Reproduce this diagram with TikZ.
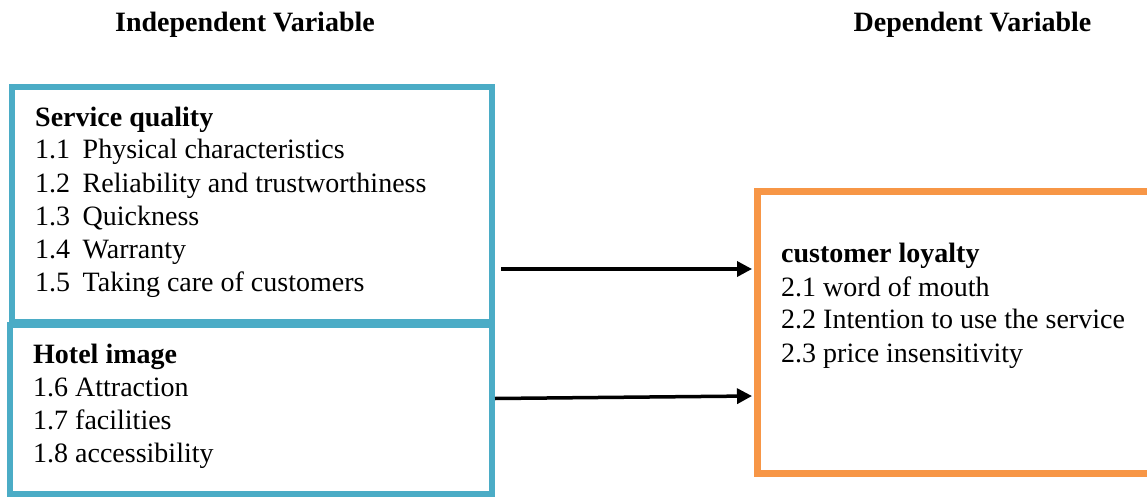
\documentclass[tikz,border=0pt]{standalone}
\usepackage{fontspec}
\setmainfont{LiberationSerif}[Extension=.ttf,UprightFont=*-Regular,BoldFont=*-Bold,ItalicFont=*-Italic,BoldItalicFont=*-BoldItalic]
\usetikzlibrary{calc,arrows.meta}
\definecolor{aqua}{HTML}{4BACC6}
\definecolor{orng}{HTML}{F79646}
\begin{document}
\begin{tikzpicture}[x=1pt,y=-1pt,
  txt/.style={anchor=base west,inner sep=0pt,font=\fontsize{28}{33}\selectfont},
  hdr/.style={anchor=base,inner sep=0pt,font=\fontsize{28}{33}\selectfont\bfseries},
  bluebox/.style={draw=aqua,line width=6pt,anchor=north west,inner sep=0pt,outer sep=0pt},
  orbox/.style={draw=orng,line width=7pt,anchor=north west,inner sep=0pt,outer sep=0pt},
  arr/.style={line width=3.5pt,-{Triangle[length=15pt,width=15pt]}}]
\useasboundingbox (0,0) rectangle (1147,497);
\fill[white] (0,0) rectangle (1147,497);
% headers
\node[hdr] (h1) at (245,32) {Independent Variable};
\node[hdr] (h2) at (972.5,32) {Dependent Variable};
% boxes
\node[bluebox,minimum width=480pt,minimum height=235pt] (sq) at (12,87) {};
\node[bluebox,minimum width=482.5pt,minimum height=169pt] (hi) at (9.5,325) {};
\node[orbox,minimum width=403pt,minimum height=282pt] (cl) at (757,191.5) {};
% service quality text
\node[txt,font=\fontsize{28}{33}\selectfont\bfseries] (t0) at (35,127) {Service quality};
\node[txt] (t1) at (35,159) {\makebox[47.5pt][l]{1.1}Physical characteristics};
\node[txt] (t2) at (35,192) {\makebox[47.5pt][l]{1.2}Reliability and trustworthiness};
\node[txt] (t3) at (35,225) {\makebox[47.5pt][l]{1.3}Quickness};
\node[txt] (t4) at (35,258) {\makebox[47.5pt][l]{1.4}Warranty};
\node[txt] (t5) at (35,291) {\makebox[47.5pt][l]{1.5}Taking care of customers};
% hotel image text
\node[txt,font=\fontsize{28}{33}\selectfont\bfseries] (u0) at (33,363) {Hotel image};
\node[txt] (u1) at (33,396) {1.6 Attraction};
\node[txt] (u2) at (33,429) {1.7 facilities};
\node[txt] (u3) at (33,462) {1.8 accessibility};
% customer loyalty text
\node[txt,font=\fontsize{28}{33}\selectfont\bfseries] (v0) at (781,262) {customer loyalty};
\node[txt] (v1) at (781,296) {2.1 word of mouth};
\node[txt] (v2) at (781,328) {2.2 Intention to use the service};
\node[txt] (v3) at (781,362) {2.3 price insensitivity};
% arrows
\draw[arr] ($(sq.east)+(9,64.5)$) -- ($(cl.west)+(-5,-63.5)$);
\draw[arr] ($(hi.east)+(3,-11)$) -- ($(cl.west)+(-5,63.5)$);
\end{tikzpicture}
\end{document}
